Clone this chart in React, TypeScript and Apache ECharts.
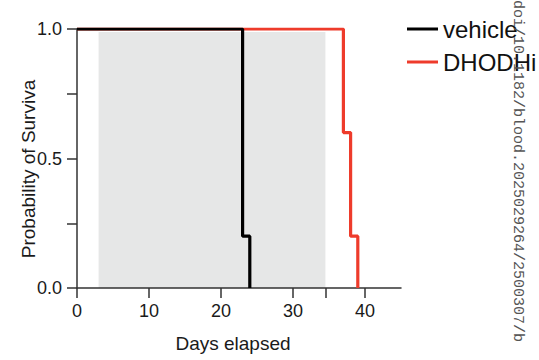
import React, { useEffect, useRef } from "react";
import * as echarts from "echarts";

const seriesNames = ["vehicle", "DHODHi"];
const vehicleSteps: [number, number][] = [
  [0, 1.0],
  [23, 0.2],
  [24, 0.0],
];
const dhodhiSteps: [number, number][] = [
  [0, 1.0],
  [37, 0.6],
  [38, 0.2],
  [39, 0.0],
];
const treatmentWindow: [number, number] = [3, 34.5];
const xTickValues = [0, 10, 20, 30, 34.5, 40];
const xLabelValues = [0, 10, 20, 30, 40];
const yTickValues = [0, 0.25, 0.5, 0.75, 1];
const yLabelValues = [0, 0.5, 1];
const xTitle = "Days elapsed";
const yTitle = "Probability of Surviva";
const watermark = "doi/10.1182/blood.2025029264/2500307/b";

const FONT = '"Liberation Sans", Arial, Helvetica, sans-serif';
const AXIS_COLOR = "#333";

export default function App() {
  const ref = useRef<HTMLDivElement>(null);
  useEffect(() => {
    if (!ref.current) return;
    const chart = echarts.init(ref.current, undefined, { renderer: "svg" });
    chart.setOption({
      animation: false,
      backgroundColor: "#fff",
      grid: { left: 77, right: 138, top: 29, bottom: 72, containLabel: false },
      legend: {
        data: seriesNames,
        orient: "vertical",
        left: 407,
        top: 17,
        padding: 0,
        itemGap: 9,
        itemWidth: 31,
        itemHeight: 3,
        icon: "rect",
        textStyle: { fontSize: 24, color: "#111", fontFamily: FONT, lineHeight: 24 },
      },
      xAxis: {
        type: "value",
        min: 0,
        max: 45,
        axisLine: { show: true, lineStyle: { color: AXIS_COLOR, width: 1.5 } },
        axisTick: {
          show: true,
          length: 10,
          customValues: xTickValues,
          lineStyle: { color: AXIS_COLOR, width: 1.5 },
        },
        axisLabel: {
          customValues: xLabelValues,
          fontSize: 18,
          color: "#1a1a1a",
          fontFamily: FONT,
          margin: 14,
        },
        splitLine: { show: false },
      },
      yAxis: {
        type: "value",
        min: 0,
        max: 1,
        axisLine: { show: true, lineStyle: { color: AXIS_COLOR, width: 1.5 } },
        axisTick: {
          show: true,
          length: 10,
          customValues: yTickValues,
          lineStyle: { color: AXIS_COLOR, width: 1.5 },
        },
        axisLabel: {
          customValues: yLabelValues,
          formatter: (v: number) => v.toFixed(1),
          fontSize: 18,
          color: "#1a1a1a",
          fontFamily: FONT,
          margin: 15,
        },
        splitLine: { show: false },
      },
      series: [
        {
          name: seriesNames[1],
          type: "line",
          step: "end",
          data: dhodhiSteps,
          symbol: "none",
          color: "#ee3b2b",
          lineStyle: { color: "#ee3b2b", width: 3.2 },
          z: 2,
          markArea: {
            silent: true,
            itemStyle: { color: "#e6e7e7" },
            data: [[{ xAxis: treatmentWindow[0], yAxis: 0 }, { xAxis: treatmentWindow[1], yAxis: 0.988 }]],
            z: 0,
          },
        },
        {
          name: seriesNames[0],
          type: "line",
          step: "end",
          data: vehicleSteps,
          symbol: "none",
          color: "#000",
          lineStyle: { color: "#000", width: 3.2 },
          z: 3,
        },
      ],
      graphic: [
        {
          type: "text",
          x: 233,
          y: 343,
          style: {
            text: xTitle,
            fontSize: 19,
            fontFamily: FONT,
            fill: "#1a1a1a",
            align: "center",
            verticalAlign: "middle",
          },
        },
        {
          type: "text",
          x: 28,
          y: 169,
          rotation: Math.PI / 2,
          style: {
            text: yTitle,
            fontSize: 19,
            fontFamily: FONT,
            fill: "#1a1a1a",
            align: "center",
            verticalAlign: "middle",
          },
        },
        {
          type: "text",
          x: 517,
          y: 0,
          rotation: -Math.PI / 2,
          z: 100,
          style: {
            text: watermark,
            fontSize: 15,
            fontFamily: '"Liberation Mono", "DejaVu Sans Mono", monospace',
            fill: "#555",
            align: "left",
            verticalAlign: "middle",
          },
        },
      ],
    });
    return () => chart.dispose();
  }, []);
  return (
    <div
      ref={ref}
      style={{ position: "fixed", left: 0, top: 0, width: 539, height: 360 }}
    />
  );
}
